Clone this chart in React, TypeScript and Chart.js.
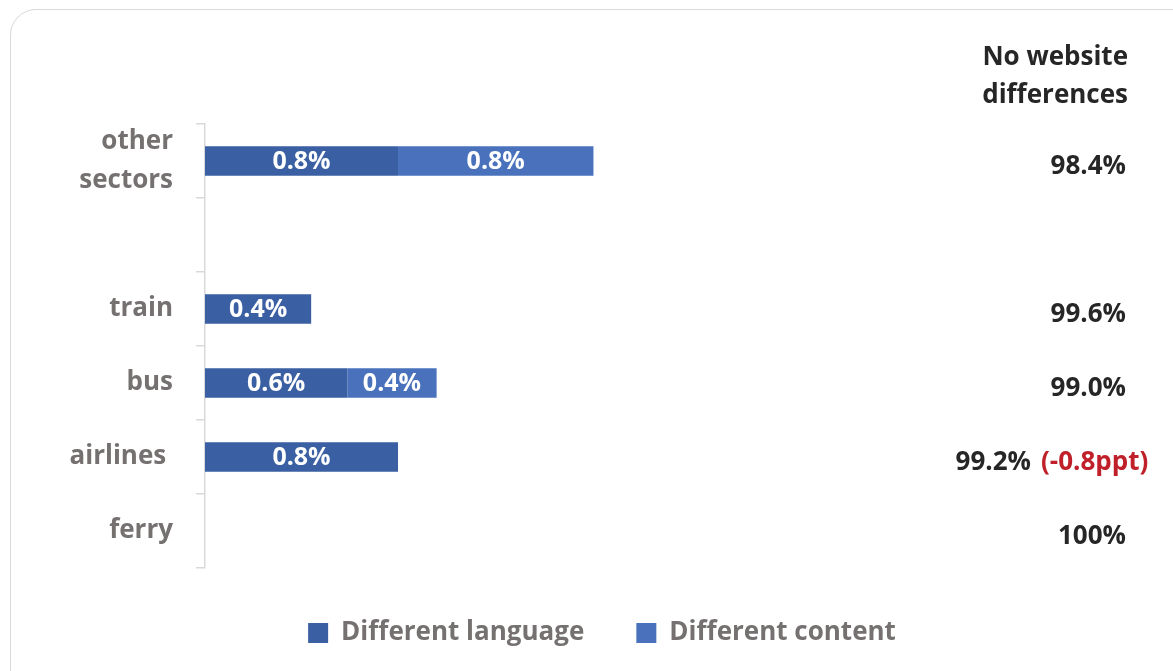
import React, { useEffect, useRef } from "react";
import { Chart, registerables } from "chart.js";

Chart.register(...registerables);

const categories: (string | string[])[] = [["other", "sectors"], "", "train", "bus", "airlines ", "ferry"];
const differentLanguage = [0.8, 0, 0.44, 0.59, 0.8, 0];
const differentContent = [0.81, 0, 0, 0.37, 0, 0];
const noDifferences: (number | null)[] = [98.4, null, 99.6, 99.0, 99.2, 100];
const changeNotes = ["", "", "", "", "(-0.8ppt)", ""];
const seriesNames = ["Different language", "Different content"];
const headerLines = ["No website", "differences"];

const FONT = "'Open Sans', 'Noto Sans', sans-serif";
const DARK = "#3A5FA3";
const LIGHT = "#4A72BC";
const GREY = "#767171";

const fmt = (v: number) => (v === 100 ? "100%" : v.toFixed(1) + "%");

const overlayPlugin = {
  id: "overlay",
  afterDatasetsDraw(chart: any) {
    const ctx = chart.ctx;
    ctx.save();
    ctx.font = `bold 25px ${FONT}`;
    ctx.fillStyle = "#ffffff";
    ctx.textAlign = "center";
    ctx.textBaseline = "middle";
    chart.data.datasets.forEach((ds: any, di: number) => {
      const meta = chart.getDatasetMeta(di);
      meta.data.forEach((bar: any, i: number) => {
        const v = ds.data[i];
        if (!v) return;
        const { x, base, y } = bar.getProps(["x", "base", "y"], true);
        ctx.fillText(v.toFixed(1) + "%", (x + base) / 2, y + 1);
      });
    });
    ctx.fillStyle = "#262626";
    ctx.font = `bold 26px ${FONT}`;
    ctx.textAlign = "right";
    ctx.fillText(headerLines[0], 1128, 58);
    ctx.fillText(headerLines[1], 1128, 96);
    const yScale = chart.scales.y;
    noDifferences.forEach((v, i) => {
      if (v === null) return;
      const y = yScale.getPixelForValue(i) + 6;
      const note = changeNotes[i];
      ctx.font = `bold 26px ${FONT}`;
      if (note) {
        ctx.fillStyle = "#262626";
        ctx.textAlign = "right";
        ctx.fillText(fmt(v), 1031, y);
        ctx.fillStyle = "#C0202A";
        ctx.textAlign = "left";
        ctx.fillText(note, 1041, y);
      } else {
        ctx.fillStyle = "#262626";
        ctx.textAlign = "right";
        ctx.fillText(fmt(v), 1126, y);
      }
    });
    ctx.restore();
  },
};

function ChartCanvas() {
  const ref = useRef<HTMLCanvasElement>(null);
  useEffect(() => {
    if (!ref.current) return;
    const chart = new Chart(ref.current, {
      type: "bar",
      data: {
        labels: categories,
        datasets: [
          {
            label: seriesNames[0],
            data: differentLanguage,
            backgroundColor: DARK,
            borderWidth: 0,
            barPercentage: 0.4,
            categoryPercentage: 1,
          },
          {
            label: seriesNames[1],
            data: differentContent,
            backgroundColor: LIGHT,
            borderWidth: 0,
            barPercentage: 0.4,
            categoryPercentage: 1,
          },
        ],
      },
      options: {
        indexAxis: "y",
        animation: false,
        responsive: false,
        maintainAspectRatio: false,
        layout: { padding: { left: 45, right: 14, top: 124, bottom: 15 } },
        scales: {
          x: {
            display: false,
            stacked: true,
            min: 0,
            max: 3.954,
          },
          y: {
            stacked: true,
            offset: true,
            afterFit: (scale: any) => {
              scale.width = 160;
            },
            grid: {
              offset: true,
              drawOnChartArea: false,
              drawTicks: true,
              tickLength: 9,
              color: "#d9d9d9",
              lineWidth: 1.5,
            },
            border: { display: true, color: "#d9d9d9", width: 1.5 },
            ticks: {
              autoSkip: false,
              padding: 23,
              color: GREY,
              font: { family: FONT, size: 26, weight: "bold", lineHeight: 1.5 },
            },
          },
        },
        plugins: {
          tooltip: { enabled: false },
          legend: {
            position: "bottom",
            labels: {
              boxWidth: 20,
              boxHeight: 20,
              padding: 52,
              color: GREY,
              font: { family: FONT, size: 26, weight: "bold" },
            },
          },
        },
      },
      plugins: [overlayPlugin],
    });
    return () => chart.destroy();
  }, []);
  return <canvas ref={ref} width={1173} height={671} style={{ display: "block" }} />;
}

export default function App() {
  return (
    <div
      style={{
        position: "fixed",
        left: 0,
        top: 0,
        width: 1173,
        height: 671,
        overflow: "hidden",
        background: "#ffffff",
      }}
    >
      <div
        style={{
          position: "absolute",
          left: 10,
          top: 9,
          width: 1200,
          height: 700,
          border: "1.5px solid #d9d9d9",
          borderRadius: 26,
          boxSizing: "border-box",
        }}
      />
      <div style={{ position: "absolute", left: 0, top: 0 }}>
        <ChartCanvas />
      </div>
    </div>
  );
}
